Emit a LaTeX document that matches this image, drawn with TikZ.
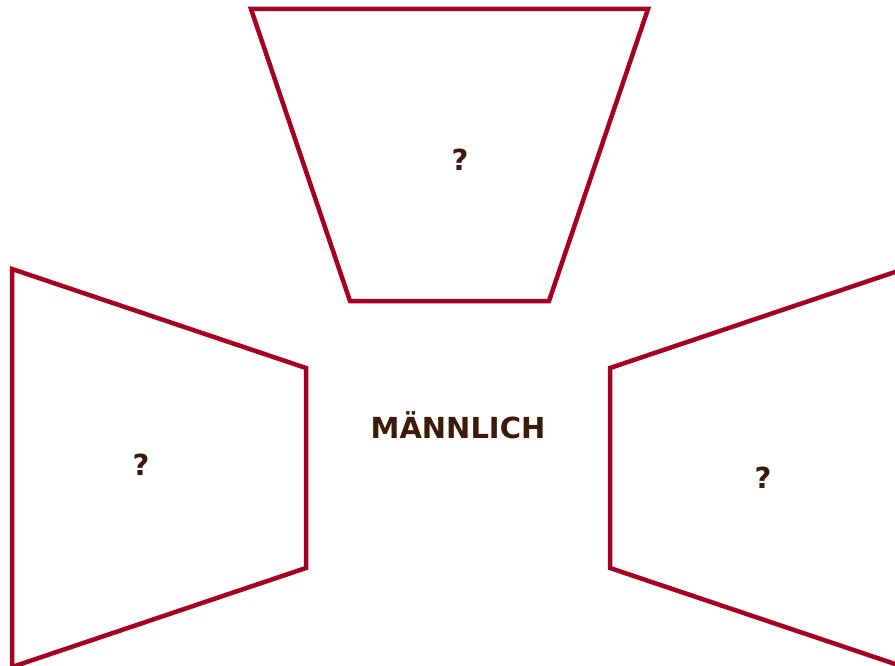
\documentclass[tikz,border=0pt]{standalone}
\usepackage{fontspec}
\setmainfont{DejaVu Sans}
\usepackage{xcolor}
\usepackage{tikz}
\usetikzlibrary{positioning}

\definecolor{frame}{HTML}{A50021}
\definecolor{ink}{HTML}{3B1A0A}

\begin{document}
\begin{tikzpicture}[
    x=1pt, y=-1pt,
    panel/.style={draw=frame, line width=4.5pt, line join=miter},
    label/.style={text=ink, font=\bfseries\fontsize{29}{34}\selectfont, inner sep=0pt}
]
\useasboundingbox (0,0) rectangle (895,666);
\clip (0,0) rectangle (895,666);
% three panels round the middle
\draw[panel] (251,9) -- (648,9) -- (549,301) -- (350,301) -- cycle;
\draw[panel] (12,269) -- (306,368) -- (306,568) -- (12,667) -- cycle;
\draw[panel] (904,269) -- (610,368) -- (610,568) -- (904,667) -- cycle;
\node[label] (top) at (460,160) {?};
\node[label] (left) at (141,465) {?};
\node[label] (right) at (763,478) {?};
\node[label] (centre) at (458,425) {MÄNNLICH};
\end{tikzpicture}
\end{document}
